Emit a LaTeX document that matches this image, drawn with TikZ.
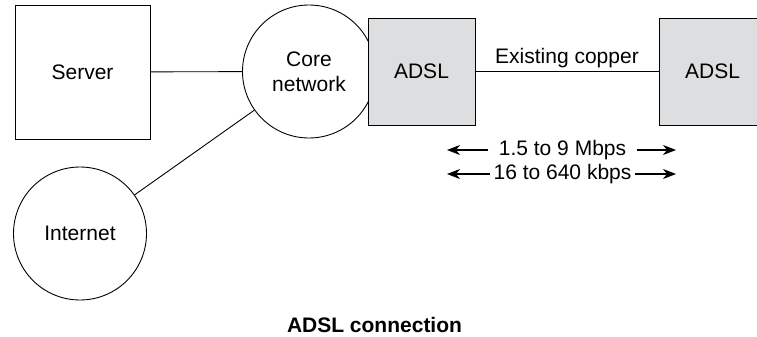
\documentclass[tikz,border=0pt]{standalone}
\usepackage{fontspec}
\setmainfont{Liberation Sans}
\usepackage{xcolor}
\usepackage{tikz}
\usetikzlibrary{positioning,arrows.meta}
\definecolor{adslgray}{RGB}{221,222,224}

\begin{document}
\begin{tikzpicture}[x=1pt, y=-1pt, line width=0.9pt, every node/.style={align=center, font=\fontsize{21}{25}\selectfont}, netcircle/.style={draw, circle, inner sep=0pt, minimum size=133pt}, modem/.style={draw, fill=adslgray, inner sep=0pt, minimum width=107pt, minimum height=107pt}, rate/.style={line width=1.2pt, -{Stealth[length=13pt,width=10pt,inset=4pt]}}]
\clip (0,0) rectangle (757,337);
\node[draw, inner sep=0pt, minimum width=135pt, minimum height=134pt] (server) at (82.5,72) {Server};
\node[netcircle] (core) at (309,71.5) {Core\\network};
\node[netcircle] (internet) at (80,233.5) {Internet};
\node[modem] (adslA) at (421.5,71.5) {ADSL};
\node[modem] (adslB) at (712.5,71.5) {ADSL};
\draw (server) -- (core);
\draw (core) -- (internet);
\draw (adslA) -- node[above, inner sep=3pt] (copper) {Existing copper} (adslB);
\node[inner xsep=10pt] (down) at (562.5,150) {1.5 to 9 Mbps};
\node[inner xsep=3pt] (up) at (562.5,174) {16 to 640 kbps};
\coordinate (downL) at (447,150);
\coordinate (downR) at (676,150);
\coordinate (upL) at (447,174);
\coordinate (upR) at (676,174);
\draw[rate] (down.west) -- (downL);
\draw[rate] (down.east) -- (downR);
\draw[rate] (up.west) -- (upL);
\draw[rate] (up.east) -- (upR);
\node[font=\fontsize{21}{25}\selectfont\bfseries] (caption) at (374.5,325) {ADSL connection};
\end{tikzpicture}
\end{document}
